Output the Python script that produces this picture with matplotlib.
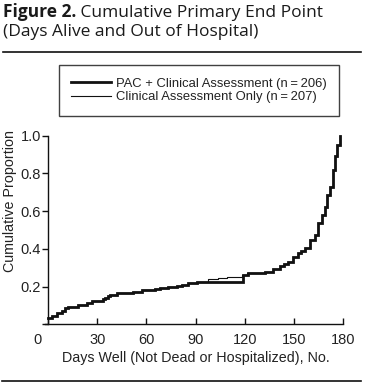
import matplotlib
matplotlib.use("Agg")
import matplotlib.pyplot as plt
import matplotlib.transforms as mtransforms
from matplotlib.lines import Line2D

# ---------------- data ----------------
pac_days = [0, 2.6, 5.3, 8.3, 10.5, 12.4, 18.5, 23.6, 26.6, 33.7, 35.0, 36.5, 37.8,
            41.9, 52.0, 57.2, 65.0, 68.3, 73.0, 78.5, 82.0, 85.6, 90.7, 118.8, 122.2,
            132.4, 137.5, 141.6, 144.0, 146.6, 149.7, 152.7, 154.5, 156.8, 159.9,
            162.9, 164.9, 167.0, 169.0, 170.4, 172.0, 173.7, 175.0, 176.5, 178.2]
pac_prop = [0.032, 0.045, 0.059, 0.073, 0.085, 0.094, 0.103, 0.112, 0.124, 0.132,
            0.140, 0.148, 0.156, 0.165, 0.173, 0.182, 0.188, 0.195, 0.200, 0.205,
            0.211, 0.218, 0.227, 0.262, 0.271, 0.280, 0.294, 0.311, 0.322, 0.333,
            0.359, 0.377, 0.390, 0.404, 0.448, 0.474, 0.536, 0.580, 0.624, 0.686,
            0.730, 0.819, 0.890, 0.952, 1.0]

clin_days = [0, 2.6, 5.3, 8.3, 10.5, 12.4, 18.5, 23.6, 26.6, 33.7, 35.0, 36.5, 37.8,
             41.9, 52.0, 57.2, 65.0, 68.3, 73.0, 78.5, 82.0, 85.6, 90.7, 97.8, 103.9,
             109.0, 118.2, 121.2,
             132.4, 137.5, 141.6, 144.0, 146.6, 149.7, 152.7, 154.5, 156.8, 159.9,
             162.9, 164.9, 167.0, 169.0, 170.4, 172.0, 173.7, 175.0, 176.5, 178.2]
clin_prop = [0.032, 0.045, 0.059, 0.073, 0.085, 0.094, 0.103, 0.112, 0.124, 0.132,
             0.140, 0.148, 0.156, 0.165, 0.173, 0.182, 0.188, 0.195, 0.200, 0.205,
             0.211, 0.218, 0.227, 0.239, 0.246, 0.253, 0.262, 0.271,
             0.280, 0.294, 0.311, 0.322, 0.333,
             0.359, 0.377, 0.390, 0.404, 0.448, 0.474, 0.536, 0.580, 0.624, 0.686,
             0.730, 0.819, 0.890, 0.952, 1.0]

series_labels = ["PAC + Clinical Assessment (n\u2009=\u2009206)",
                 "Clinical Assessment Only (n\u2009=\u2009207)"]
x_ticks = [0, 30, 60, 90, 120, 150, 180]
y_ticks = [0.2, 0.4, 0.6, 0.8, 1.0]

title_bold = "Figure 2."
title_rest = " Cumulative Primary End Point"
title_line2 = "(Days Alive and Out of Hospital)"
x_label = "Days Well (Not Dead or Hospitalized), No."
y_label = "Cumulative Proportion"

# ---------------- figure ----------------
W, H = 366, 387
fig = plt.figure(figsize=(W / 100, H / 100), dpi=100)
plt.rcParams['font.family'] = ['Liberation Sans', 'DejaVu Sans']
txt_col = '#222222'

def fx(px):
    return px / W

def fy(py):
    return 1 - py / H

ax = fig.add_axes([fx(48), fy(324.4), fx(343) - fx(48), fy(135.7) - fy(324.4)])

ax.plot(pac_days, pac_prop, drawstyle='steps-post', color='#111111', lw=2.0,
        label=series_labels[0], clip_on=False, solid_joinstyle='miter')
ax.plot(clin_days, clin_prop, drawstyle='steps-post', color='#111111', lw=0.8,
        label=series_labels[1], clip_on=False)

ax.set_xlim(0, 180)
ax.set_ylim(0, 1.0)
ax.set_xticks(x_ticks)
ax.set_xticklabels([str(v) for v in x_ticks])
ax.set_yticks([0] + y_ticks)
ax.set_yticklabels([''] + ['%.1f' % v for v in y_ticks])

for s in ['top', 'right']:
    ax.spines[s].set_visible(False)
for s in ['left', 'bottom']:
    ax.spines[s].set_linewidth(1.0)
    ax.spines[s].set_color('#111111')
ax.spines['bottom'].set_bounds(-1.8, 180)

ax.tick_params(axis='x', direction='in', length=4, width=1.0, pad=6,
               labelsize=10.5, colors='#111111')
ax.tick_params(axis='y', direction='out', length=4, width=1.0, pad=1,
               labelsize=10.5, colors='#111111')
for lab in ax.get_xticklabels() + ax.get_yticklabels():
    lab.set_color(txt_col)
# the "0" label sits left of the axis corner
zero_lab = ax.get_xticklabels()[0]
zero_lab.set_transform(zero_lab.get_transform() +
                       mtransforms.ScaledTranslation(-10 / 100, 0, fig.dpi_scale_trans))

ax.set_xlabel(x_label, fontsize=10.3, color=txt_col, labelpad=3)
ax.set_ylabel(y_label, fontsize=10.3, color=txt_col)
ax.yaxis.set_label_coords((17 - 48) / 295, (324.4 - 201) / 188.7)

leg = ax.legend(loc='upper left', bbox_to_anchor=(fx(59), fy(65)),
                bbox_transform=fig.transFigure, fontsize=9.4, frameon=True,
                fancybox=False, edgecolor='#111111', handlelength=3.0,
                handletextpad=0.4, borderpad=0.95, labelspacing=0.12,
                borderaxespad=0)
leg.get_frame().set_linewidth(1.0)
for t in leg.get_texts():
    t.set_color(txt_col)

# ---------------- title ----------------
tfont = 'Open Sans'
t1 = fig.text(fx(3), fy(17), title_bold, fontsize=12.5, fontweight='bold',
              family=tfont, color='#1a1a1a', va='baseline', ha='left')
fig.canvas.draw()
r = fig.canvas.get_renderer()
bb = t1.get_window_extent(r)
fig.text(bb.x1 / W, fy(17), title_rest, fontsize=12.5, family=tfont,
         color='#1a1a1a', va='baseline', ha='left')
fig.text(fx(3), fy(35.5), title_line2, fontsize=12.5, family=tfont,
         color='#1a1a1a', va='baseline', ha='left')

fig.add_artist(Line2D([fx(3), fx(361)], [fy(52), fy(52)], color='#111111', lw=1.2))
fig.add_artist(Line2D([fx(2), fx(361)], [fy(381), fy(381)], color='#111111', lw=1.2))

fig.savefig('out.png', dpi=100)
